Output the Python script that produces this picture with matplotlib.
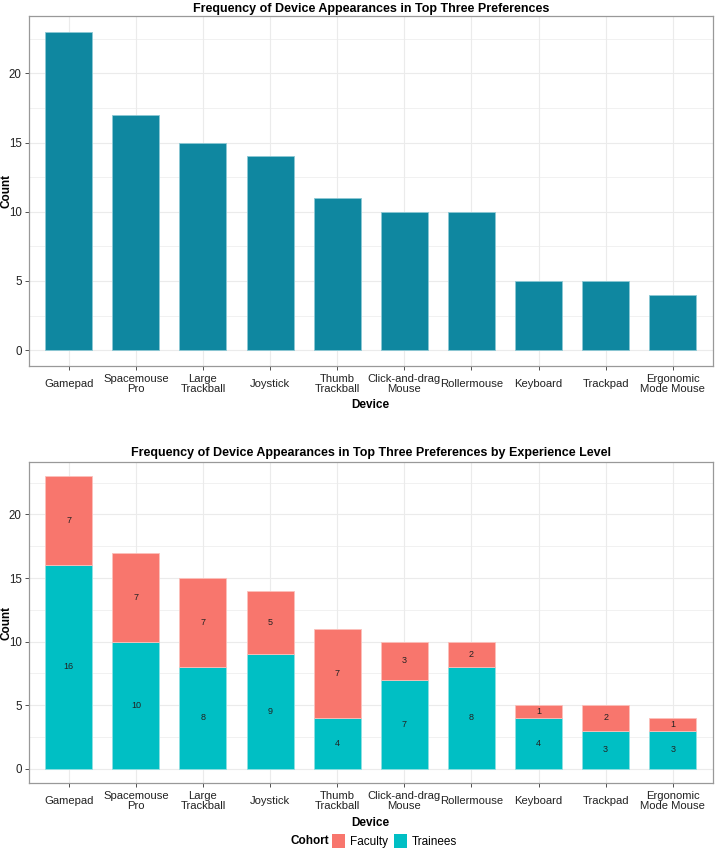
"""Device preference bar charts (total and by cohort)."""
import matplotlib
matplotlib.use("Agg")
import matplotlib.pyplot as plt  # type: ignore
from matplotlib.ticker import MultipleLocator  # type: ignore
from matplotlib.patches import Patch  # type: ignore
import numpy as np  # type: ignore

plt.rcParams["font.family"] = ["Liberation Sans", "DejaVu Sans"]

devices = ["Gamepad", "Spacemouse\nPro", "Large\nTrackball", "Joystick", "Thumb\nTrackball",
           "Click-and-drag\nMouse", "Rollermouse", "Keyboard", "Trackpad",
           "Ergonomic\nMode Mouse"]
totals = [23, 17, 15, 14, 11, 10, 10, 5, 5, 4]
trainees = [16, 10, 8, 9, 4, 7, 8, 4, 3, 3]
faculty = [7, 7, 7, 5, 7, 3, 2, 1, 2, 1]

W, H = 716, 848
TEAL = "#0F87A0"
FAC = "#F8766D"
TRN = "#00BFC4"
GRID = "#EBEBEB"
AX_L, AX_R = 28.5, 713


def style_axes(ax):
    """."""
    ax.set_xlim(0.4, len(devices) + 0.6)
    ax.set_ylim(-1.15, 24.15)
    ax.yaxis.set_major_locator(MultipleLocator(5))
    ax.yaxis.set_minor_locator(MultipleLocator(2.5))
    ax.set_xticks(np.arange(1, len(devices) + 1))
    ax.set_xticklabels(devices, fontsize=8.1, color="#222222", linespacing=1.02, va="center")
    ax.tick_params(axis="y", labelsize=8.3, labelcolor="#222222")
    ax.tick_params(axis="both", which="major", length=3, width=0.6, color="#333333", pad=2)
    ax.tick_params(axis="x", which="major", pad=9.7)
    ax.tick_params(axis="y", which="minor", length=0)
    ax.grid(True, which="major", color=GRID, lw=0.8)
    ax.grid(True, which="minor", axis="y", color=GRID, lw=0.5)
    ax.set_axisbelow(True)
    for s in ax.spines.values():
        s.set_color("#999999")
        s.set_linewidth(0.9)
    ax.set_xlabel("Device", fontsize=8.5, fontweight="bold", labelpad=4)
    ax.set_ylabel("Count", fontsize=8.5, fontweight="bold")
    ax.yaxis.set_label_coords((12.5 - AX_L) / (AX_R - AX_L), 0.5)


fig = plt.figure(figsize=(W / 100, H / 100), dpi=100)
x = np.arange(1, len(devices) + 1)

ax1 = fig.add_axes([AX_L / W, (H - 366) / H, (AX_R - AX_L) / W, 350 / H])
ax1.bar(x, totals, width=0.7, color=TEAL, edgecolor="#8CC8D4", linewidth=0.6)
style_axes(ax1)
ax1.set_title("Frequency of Device Appearances in Top Three Preferences",
              fontsize=9, fontweight="bold", pad=3)

ax2 = fig.add_axes([AX_L / W, (H - 783.3) / H, (AX_R - AX_L) / W, 321.6 / H])
ax2.bar(x, trainees, width=0.7, color=TRN, edgecolor="#8FE0E2", linewidth=0.6)
ax2.bar(x, faculty, width=0.7, bottom=trainees, color=FAC, edgecolor="#FBC0BB",
        linewidth=0.6)
for xi, t, f in zip(x, trainees, faculty):
    ax2.text(xi, t / 2, str(t), ha="center", va="center", fontsize=6.5, color="#222222")
    ax2.text(xi, t + f / 2, str(f), ha="center", va="center", fontsize=6.5, color="#222222")
style_axes(ax2)
ax2.set_title("Frequency of Device Appearances in Top Three Preferences by Experience Level",
              fontsize=9, fontweight="bold", pad=4)

fig.text(329 / W, 1 - 841 / H, "Cohort", ha="right", va="center", fontsize=8.5,
         fontweight="bold")
handles = [Patch(facecolor=FAC, edgecolor="none"), Patch(facecolor=TRN, edgecolor="none")]
fig.legend(handles, ["Faculty", "Trainees"], loc="center left", ncol=2,
           bbox_to_anchor=(332 / W, 1 - 841 / H), frameon=False, fontsize=8.5,
           handlelength=1.1, handleheight=1.4, handletextpad=0.4,
           columnspacing=0.5, borderpad=0, borderaxespad=0)

fig.savefig("out.png", dpi=100)
